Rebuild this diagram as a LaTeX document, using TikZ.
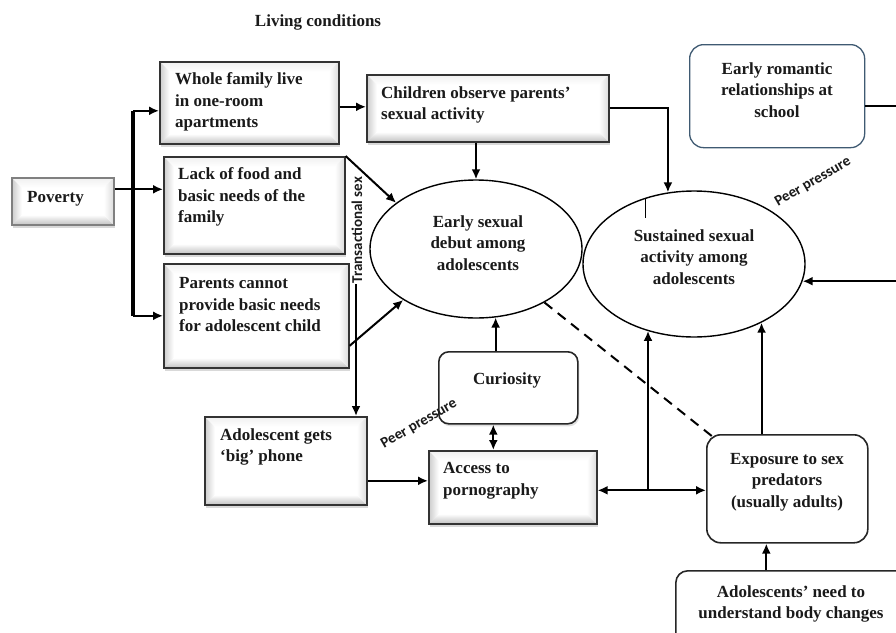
\documentclass[tikz,border=0pt]{standalone}
\usepackage{fontspec}
\setmainfont{Liberation Serif}
\newfontfamily\calfont{Carlito}
\usetikzlibrary{arrows.meta,shapes.geometric,shadows}
\definecolor{slate}{HTML}{3F5A72}
\definecolor{ink}{HTML}{1A1A1A}

\begin{document}
\begin{tikzpicture}[x=1pt, y=-1pt, >={Latex[length=10pt,width=9pt]},
    bevel/.style={path picture={
        \coordinate (pnw) at (path picture bounding box.north west);
        \coordinate (pne) at (path picture bounding box.north east);
        \coordinate (psw) at (path picture bounding box.south west);
        \coordinate (pse) at (path picture bounding box.south east);
        \shade[top color=black!6, bottom color=white] (pnw) -- (pne) -- ([shift={(-10pt,-10pt)}]pne) -- ([shift={(10pt,-10pt)}]pnw) -- cycle;
        \shade[left color=black!20, right color=white] (pnw) -- (psw) -- ([shift={(10pt,10pt)}]psw) -- ([shift={(10pt,-10pt)}]pnw) -- cycle;
        \shade[bottom color=black!24, top color=white] (psw) -- (pse) -- ([shift={(-10pt,10pt)}]pse) -- ([shift={(10pt,10pt)}]psw) -- cycle;
        \shade[right color=black!14, left color=white] (pse) -- (pne) -- ([shift={(-10pt,-10pt)}]pne) -- ([shift={(-10pt,10pt)}]pse) -- cycle;
    }},
    box/.style={draw=black!80, line width=1.6pt, fill=white, bevel, anchor=north west, inner sep=0pt,
        drop shadow={shadow xshift=1.5pt, shadow yshift=-3.5pt, opacity=0.3}},
    rbox/.style={draw=black!85, line width=1.6pt, fill=white, rounded corners=12pt, anchor=north west, inner sep=0pt},
    oval/.style={ellipse, draw, line width=1.4pt, inner sep=0pt},
    lbl/.style={font=\fontsize{17}{21.5}\selectfont\bfseries, text=ink, inner sep=0pt},
    peer/.style={font=\calfont\fontsize{15}{18}\selectfont\bfseries, text=ink, inner sep=0pt},
    arr/.style={->, line width=2pt},
    dbl/.style={<->, line width=2pt},
    bar/.style={line width=3.8pt}]

    \useasboundingbox (0,0) rectangle (896,632);
    \clip (0,0) rectangle (896,632);

    \node[lbl] (title) at (318,22) {Living conditions};

    % Boxes
    \node[box, draw=black!50, minimum width=102pt, minimum height=47pt] (poverty) at (11,177) {};
    \node[box, minimum width=179pt, minimum height=82pt] (family) at (159,61) {};
    \node[box, minimum width=181pt, minimum height=97pt] (lack) at (163,156) {};
    \node[box, minimum width=185pt, minimum height=104pt] (parents) at (163,263) {};
    \node[box, minimum width=242pt, minimum height=67pt] (children) at (366,74) {};
    \node[box, minimum width=162pt, minimum height=88pt] (phone) at (204,416) {};
    \node[box, minimum width=168pt, minimum height=73pt] (access) at (428,450) {};
    \node[rbox, rounded corners=10pt, minimum width=139pt, minimum height=72pt,
        drop shadow={shadow xshift=1.5pt, shadow yshift=-2.5pt, opacity=0.25}] (curio) at (438,351) {};
    \node[rbox, rounded corners=14pt, minimum width=161pt, minimum height=108pt] (expo) at (706,434) {};
    \node[rbox, minimum width=240pt, minimum height=90pt] (need) at (675,570) {};
    \node[rbox, draw=slate, line width=1.3pt, rounded corners=14pt, minimum width=175pt, minimum height=103pt] (romantic) at (689,44) {};

    % Ellipses
    \node[oval, minimum width=212pt, minimum height=138pt] (debut) at (476,249) {};
    \node[oval, minimum width=222pt, minimum height=146pt] (sust) at (694,264) {};
    \draw[line width=0.6pt] (645,198) -- (645,218);

    % Texts
    \node[lbl, anchor=west] (povertytxt) at (27,199) {Poverty};
    \node[lbl, align=left, anchor=west] (familytxt) at (175,102) {Whole family live\\in one-room\\apartments};
    \node[lbl, align=left, anchor=west] (lacktxt) at (178,197) {Lack of food and\\basic needs of the\\family};
    \node[lbl, align=left, anchor=west] (parentstxt) at (179,305) {Parents cannot\\provide basic needs\\for adolescent child};
    \node[lbl, align=left, anchor=west] (childrentxt) at (381,105) {Children observe parents’\\sexual activity};
    \node[lbl, align=left, anchor=west] (phonetxt) at (220,447) {Adolescent gets\\‘big’ phone};
    \node[lbl, align=left, anchor=west] (accesstxt) at (443,481) {Access to\\pornography};
    \node[lbl] (curiotxt) at (507,380) {Curiosity};
    \node[lbl, align=center] (expotxt) at (787,482) {Exposure to sex\\predators\\(usually adults)};
    \node[lbl, align=center] (needtxt) at (791,604) {Adolescents’ need to\\understand body changes};
    \node[lbl, align=center] (romantictxt) at (777,90) {Early romantic\\relationships at\\school};
    \node[lbl, align=center] (debuttxt) at (478,243) {Early sexual\\debut among\\adolescents};
    \node[lbl, align=center] (susttxt) at (694,257) {Sustained sexual\\activity among\\adolescents};

    \node[peer, rotate=90] (transtxt) at (357,230) {Transactional sex};
    \node[peer, rotate=30] (peerA) at (813,182) {Peer pressure};
    \node[peer, rotate=30] (peerB) at (419,424) {Peer pressure};

    % Connectors
    \coordinate (fork) at (133,188);
    \coordinate (famin) at ([yshift=-8pt]family.west);
    \draw[arr] ([yshift=12pt]poverty.east) -- ([yshift=12pt]poverty.east -| lack.west);
    \draw[bar] (fork |- famin) -- (fork |- parents.west);
    \draw[arr] (fork |- famin) -- (famin);
    \draw[arr] (fork |- parents.west) -- (parents.west);

    \draw[arr] ([yshift=-4pt]family.east) -- ([yshift=-4pt]family.east -| children.west);
    \draw[arr] (children.south -| debut.north) -- (debut.north);
    \draw[arr] (children.east) -| (sust.110);
    \draw[arr] (lack.north east) -- (debut.150);
    \draw[arr] ([yshift=-30pt]parents.east) -- (debut.215);

    \coordinate (trans) at (356,284);
    \draw[arr] (trans) -- (trans |- phone.north);
    \draw[arr] ([yshift=-20pt]phone.east) -- ([yshift=-20pt]phone.east -| access.west);
    \draw[dbl] ([xshift=-15pt]curio.south) -- ([xshift=-15pt]curio.south |- access.north);
    \draw[arr] (curio.north -| debut.286) -- (debut.286);

    \draw[dbl] ([yshift=-3pt]access.east) -- ([yshift=-3pt]access.east -| expo.west);
    \coordinate (junc) at (648,489.5);
    \draw[arr] (junc) -- (junc |- sust.235);
    \draw[arr] (expo.north -| sust.319) -- (sust.319);
    \draw[arr] ([xshift=-21pt]expo.south |- need.north) -- ([xshift=-21pt]expo.south);

    \coordinate (redge) at (915,200);
    \draw[arr] ([yshift=-10pt]romantic.east) -| (redge) |- (sust.351);
    \draw[line width=2pt, dash pattern=on 10pt off 7pt] (debut.322) -- ([shift={(7,3)}]expo.north west);
\end{tikzpicture}
\end{document}
